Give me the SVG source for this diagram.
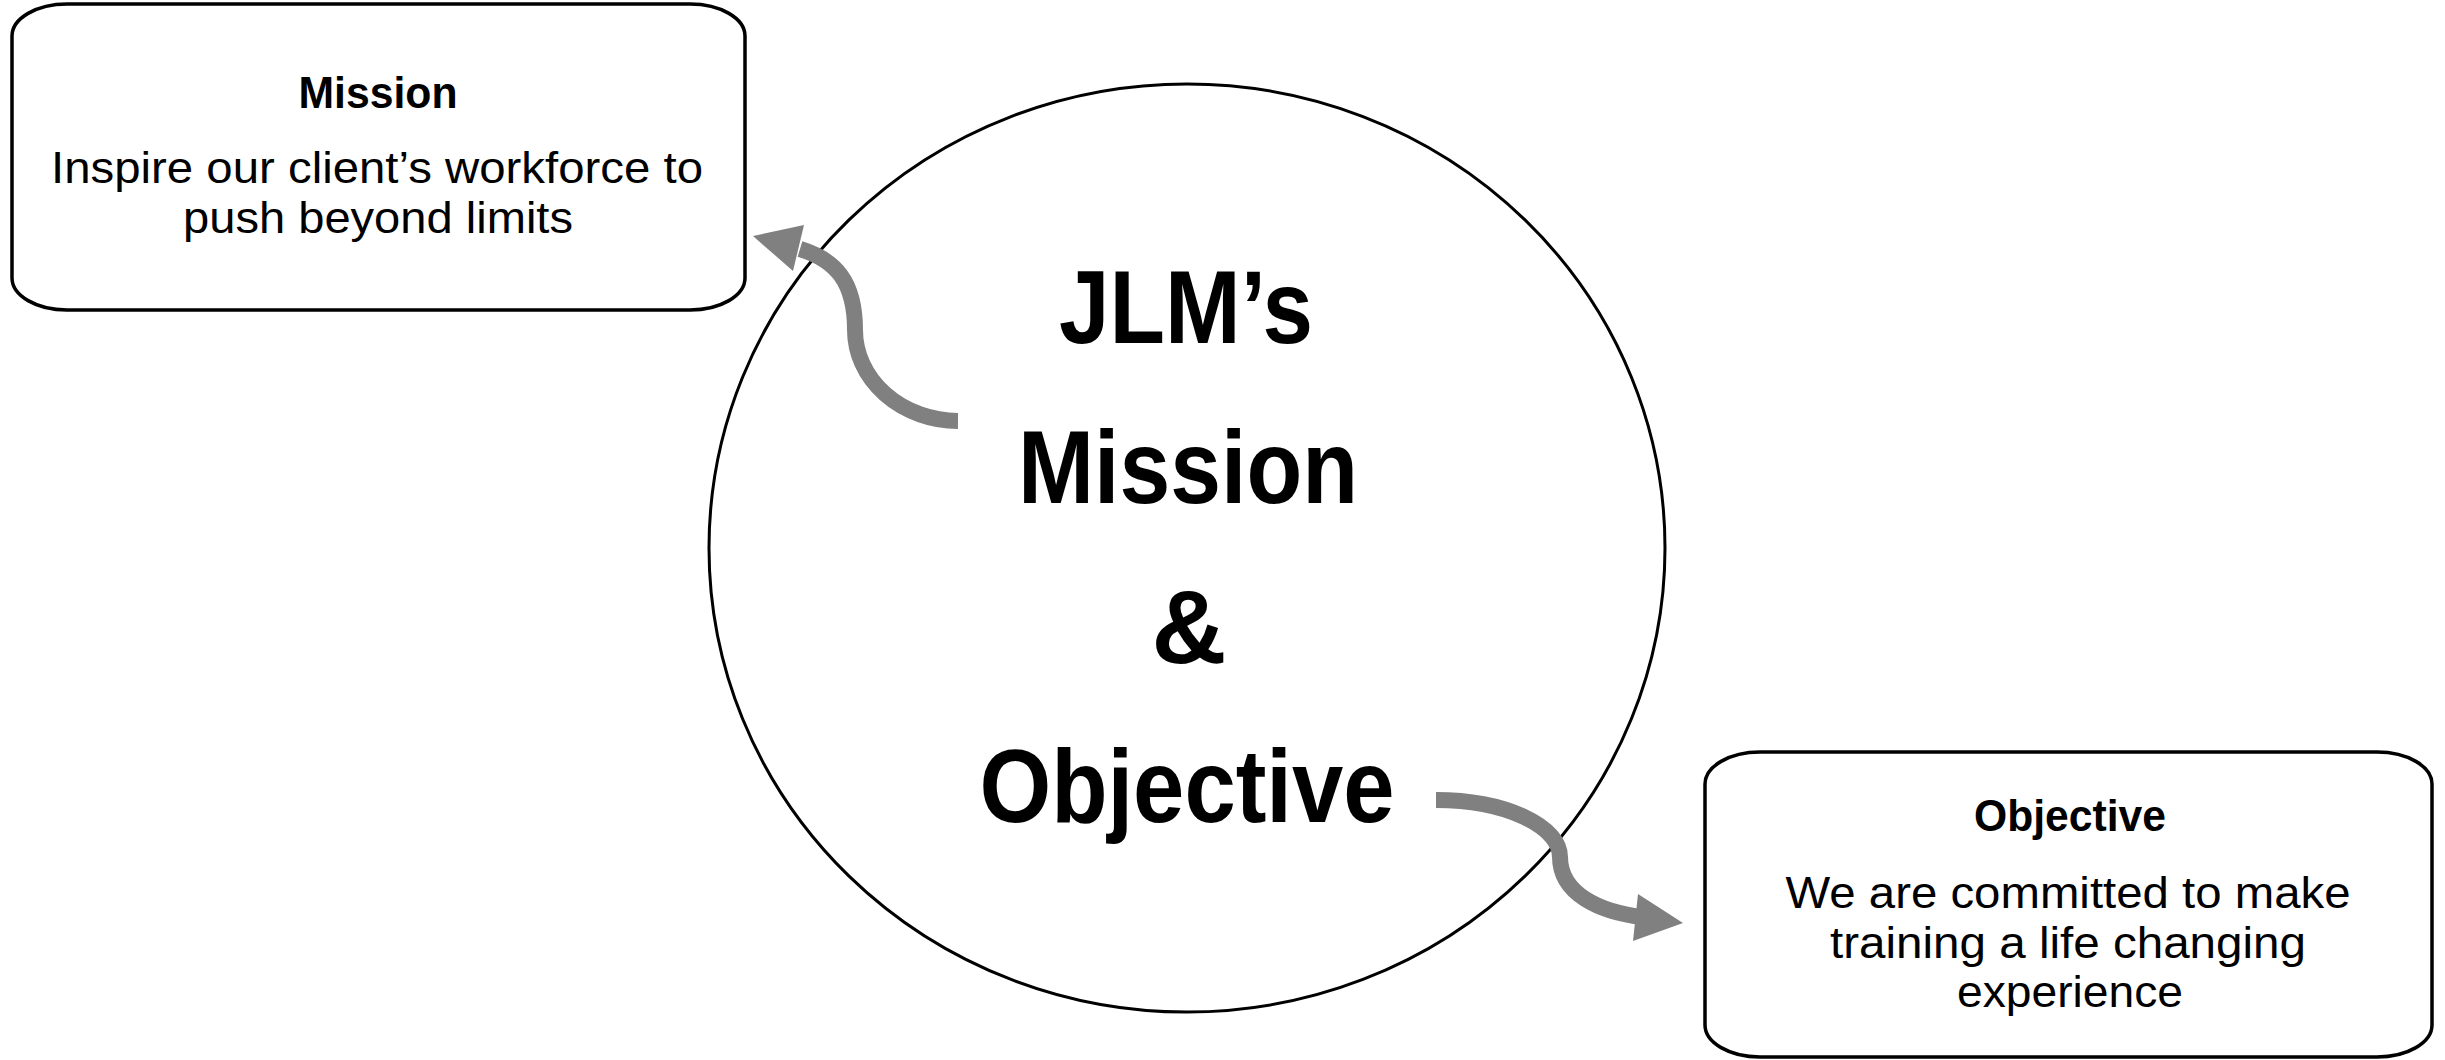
<svg xmlns="http://www.w3.org/2000/svg" width="2445" height="1060" viewBox="0 0 2445 1060">
<style>
.box{fill:#fff;stroke:#000;stroke-width:3.5}
.ring{fill:#fff;stroke:#000;stroke-width:3}
.t{font-family:"Liberation Sans Narrow","Liberation Sans",Arial,sans-serif;fill:#000;text-anchor:middle}
.h{font-weight:bold;font-size:45px}
.b{font-size:44px}
.big{font-weight:bold;font-size:104px}
.conn{fill:none;stroke:#808080;stroke-width:16}
.head{fill:#808080}
</style>
<rect width="2445" height="1060" fill="#fff"/>
<g id="mission-box">
<rect class="box" x="12" y="4" width="733" height="306" rx="55" ry="32"/>
<text class="t h" x="378" y="108" textLength="159" lengthAdjust="spacingAndGlyphs">Mission</text>
<text class="t b" x="377" y="183" textLength="652" lengthAdjust="spacingAndGlyphs">Inspire our client’s workforce to</text>
<text class="t b" x="378" y="233" textLength="390" lengthAdjust="spacingAndGlyphs">push beyond limits</text>
</g>
<g id="center-circle">
<ellipse class="ring" cx="1187" cy="548" rx="478" ry="464"/>
<text class="t big" x="1186" y="343" textLength="254" lengthAdjust="spacingAndGlyphs">JLM’s</text>
<text class="t big" x="1188" y="503" textLength="340" lengthAdjust="spacingAndGlyphs">Mission</text>
<text class="t big" x="1189" y="663" textLength="75" lengthAdjust="spacingAndGlyphs">&amp;</text>
<text class="t big" x="1187" y="822" textLength="415" lengthAdjust="spacingAndGlyphs">Objective</text>
</g>
<g id="objective-box">
<rect class="box" x="1705" y="752" width="727" height="305" rx="55" ry="32"/>
<text class="t h" x="2070" y="831" textLength="192" lengthAdjust="spacingAndGlyphs">Objective</text>
<text class="t b" x="2068" y="908" textLength="565" lengthAdjust="spacingAndGlyphs">We are committed to make</text>
<text class="t b" x="2068" y="958" textLength="476" lengthAdjust="spacingAndGlyphs">training a life changing</text>
<text class="t b" x="2070" y="1007" textLength="226" lengthAdjust="spacingAndGlyphs">experience</text>
</g>
<g id="connectors">
<path class="conn" d="M 958 421 A 104 91 0 0 1 855 330 C 855 282 836 260 800 249"/>
<polygon class="head" points="753,236 804,225 793,271"/>
<path class="conn" d="M 1436 800 A 124 57 0 0 1 1560 857 C 1560 894 1600 912 1642 917"/>
<polygon class="head" points="1683,923 1638,894 1633,941"/>
</g>
</svg>
